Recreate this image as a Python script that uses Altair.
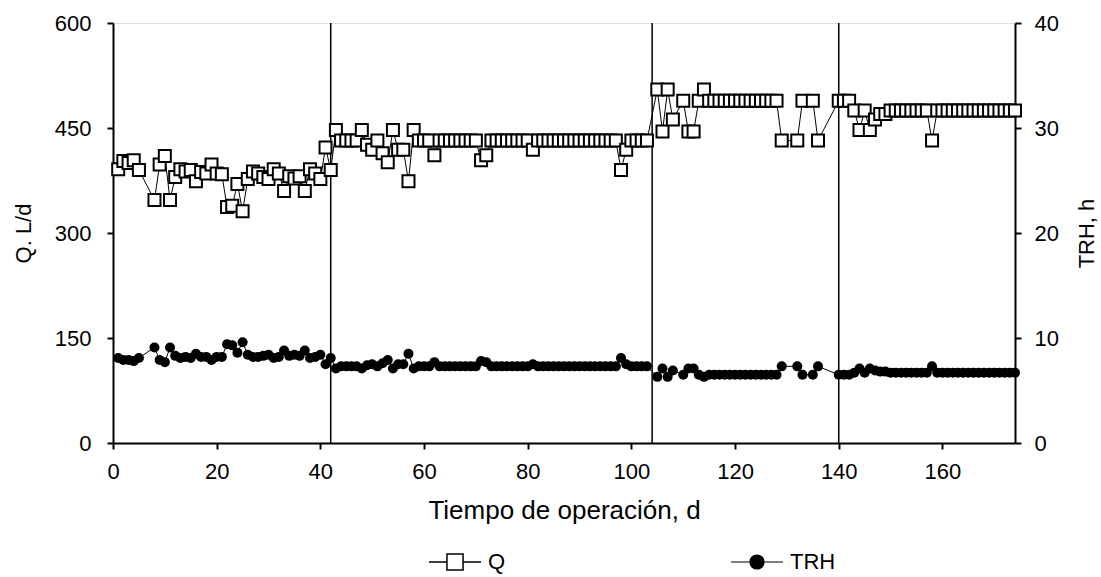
import altair as alt
import pandas as pd

# ---------------- data ----------------
days_p1 = [1, 2, 3, 4, 5, 8, 9, 10, 11, 12, 13, 14, 15, 16, 17, 18, 19, 20, 21, 22,
           23, 24, 25, 26, 27, 28, 29, 30, 31, 32, 33, 34, 35, 36, 37, 38, 39, 40, 41, 42]
q_p1 = [391, 403, 400, 404, 390, 347, 398, 410, 347, 380, 391, 388, 390, 374, 387, 385, 398, 385, 384, 337,
        339, 370, 331, 377, 388, 385, 380, 377, 391, 385, 360, 381, 378, 381, 360, 391, 385, 377, 422, 390]
trh_p1 = [8.1, 7.9, 7.9, 7.8, 8.1, 9.1, 7.9, 7.7, 9.1, 8.3, 8.1, 8.2, 8.1, 8.5, 8.2, 8.2, 7.9, 8.2, 8.2, 9.4,
          9.3, 8.6, 9.6, 8.4, 8.2, 8.2, 8.3, 8.4, 8.1, 8.2, 8.8, 8.3, 8.4, 8.3, 8.8, 8.1, 8.2, 8.4, 7.5, 8.1]

days_p2 = [43, 44, 45, 46, 47, 48, 49, 50, 51, 52, 53, 54, 55, 56, 57, 58, 59, 60, 61, 62,
           63, 64, 65, 66, 67, 68, 69, 70, 71, 72, 73, 74, 75, 76, 77, 78, 79, 80, 81, 82,
           83, 84, 85, 86, 87, 88, 89, 90, 91, 92, 93, 94, 95, 96, 97, 98, 99, 100, 101, 102, 103]
q_p2 = [447, 432, 432, 432, 432, 447, 426, 419, 432, 414, 401, 447, 419, 419, 374, 447, 432, 432, 432, 411,
        432, 432, 432, 432, 432, 432, 432, 432, 404, 411, 432, 432, 432, 432, 432, 432, 432, 432, 419, 432,
        432, 432, 432, 432, 432, 432, 432, 432, 432, 432, 432, 432, 432, 432, 432, 390, 419, 432, 432, 432, 432]
trh_p2 = [7.1, 7.3, 7.3, 7.3, 7.3, 7.1, 7.4, 7.5, 7.3, 7.6, 7.9, 7.1, 7.5, 7.5, 8.5, 7.1, 7.3, 7.3, 7.3, 7.7,
          7.3, 7.3, 7.3, 7.3, 7.3, 7.3, 7.3, 7.3, 7.8, 7.7, 7.3, 7.3, 7.3, 7.3, 7.3, 7.3, 7.3, 7.3, 7.5, 7.3,
          7.3, 7.3, 7.3, 7.3, 7.3, 7.3, 7.3, 7.3, 7.3, 7.3, 7.3, 7.3, 7.3, 7.3, 7.3, 8.1, 7.5, 7.3, 7.3, 7.3, 7.3]

days_p3 = [105, 106, 107, 108, 110, 111, 112, 113, 114, 115, 116, 117, 118, 119, 120, 121, 122, 123, 124, 125,
           126, 127, 128, 129, 132, 133, 135, 136, 140, 141, 142, 143, 144, 145, 146, 147, 148, 149, 150, 151,
           152, 153, 154, 155, 156, 157, 158, 159, 160, 161, 162, 163, 164, 165, 166, 167, 168, 169, 170, 171,
           172, 173, 174]
q_p3 = [505, 445, 505, 462, 489, 445, 445, 489, 505, 489, 489, 489, 489, 489, 489, 489, 489, 489, 489, 489,
        489, 489, 489, 432, 432, 489, 489, 432, 489, 489, 489, 475, 447, 475, 447, 462, 470, 470, 475, 475,
        475, 475, 475, 475, 475, 475, 432, 475, 475, 475, 475, 475, 475, 475, 475, 475, 475, 475, 475, 475,
        475, 475, 475]
trh_p3 = [6.3, 7.1, 6.3, 6.9, 6.5, 7.1, 7.1, 6.5, 6.3, 6.5, 6.5, 6.5, 6.5, 6.5, 6.5, 6.5, 6.5, 6.5, 6.5, 6.5,
          6.5, 6.5, 6.5, 7.3, 7.3, 6.5, 6.5, 7.3, 6.5, 6.5, 6.5, 6.7, 7.1, 6.7, 7.1, 6.9, 6.8, 6.8, 6.7, 6.7,
          6.7, 6.7, 6.7, 6.7, 6.7, 6.7, 7.3, 6.7, 6.7, 6.7, 6.7, 6.7, 6.7, 6.7, 6.7, 6.7, 6.7, 6.7, 6.7, 6.7,
          6.7, 6.7, 6.7]

phase_days = [42, 104, 140]
x_ticks = [0, 20, 40, 60, 80, 100, 120, 140, 160]
q_ticks = [0, 150, 300, 450, 600]
trh_ticks = [0, 10, 20, 30, 40]

days = days_p1 + days_p2 + days_p3
df = pd.DataFrame({
    "dia": days,
    "Q": q_p1 + q_p2 + q_p3,
    "TRH": trh_p1 + trh_p2 + trh_p3,
})
df["sQ"] = "Q"
df["sT"] = "TRH"
phase_df = pd.DataFrame({"dia": phase_days})

FONT = "Liberation Sans"

x_enc = alt.X(
    "dia:Q",
    scale=alt.Scale(domain=[0, 174], nice=False, zero=False),
    axis=alt.Axis(
        values=x_ticks, title="Tiempo de operación, d", grid=False,
        domainColor="black", domainWidth=2, tickColor="black", tickWidth=2, tickSize=6,
        labelFont=FONT, labelFontSize=22, labelColor="black", labelPadding=12,
        labelFlush=False, labelOverlap=False,
        titleFont=FONT, titleFontSize=26, titleFontWeight="normal", titleColor="black",
        titleY=75, titleBaseline="alphabetic",
    ),
)

q_y = alt.Y(
    "Q:Q",
    scale=alt.Scale(domain=[0, 600], nice=False),
    axis=alt.Axis(
        orient="left", values=q_ticks, title="Q. L/d", grid=False,
        domainColor="black", domainWidth=2, tickColor="black", tickWidth=2, tickSize=6,
        labelFont=FONT, labelFontSize=22, labelColor="black", labelPadding=16,
        labelFlush=False, labelOverlap=False,
        titleFont=FONT, titleFontSize=22, titleFontWeight="normal", titleColor="black",
        titleAngle=270, titleX=-90, titleY=210, titleAlign="center", titleBaseline="middle",
    ),
)

trh_y = alt.Y(
    "TRH:Q",
    scale=alt.Scale(domain=[0, 40], nice=False),
    axis=alt.Axis(
        orient="right", values=trh_ticks, title="TRH, h", grid=False,
        domainColor="black", domainWidth=2, tickColor="black", tickWidth=2, tickSize=6,
        labelFont=FONT, labelFontSize=22, labelColor="black", labelPadding=13,
        labelFlush=False, labelOverlap=False,
        titleFont=FONT, titleFontSize=22, titleFontWeight="normal", titleColor="black",
        titleAngle=270, titleX=71, titleY=210, titleAlign="center", titleBaseline="middle",
    ),
)

PATH_Q = "M-1,0H-0.31M0.31,0H1M-0.31,-0.31H0.31V0.31H-0.31Z"
PATH_T = "M-1,0H1M0.27,0A0.27,0.27 0 1,1 -0.27,0A0.27,0.27 0 1,1 0.27,0Z"

base = alt.Chart(df)

rules = alt.Chart(phase_df).mark_rule(color="black", strokeWidth=1.5).encode(x=x_enc)

trh_line = base.mark_line(color="black", strokeWidth=1).encode(x=x_enc, y=trh_y)
trh_pts = base.mark_point(shape="circle", filled=True, size=100, opacity=1).encode(
    x=x_enc, y=trh_y,
    fill=alt.Fill(
        "sT:N",
        scale=alt.Scale(domain=["TRH"], range=["black"]),
        legend=alt.Legend(
            title=None, orient="none", legendX=617, legendY=512,
            symbolType=PATH_T, symbolSize=2704, symbolStrokeColor="black",
            symbolStrokeWidth=1.2, symbolFillColor="black",
            labelFont=FONT, labelFontSize=22, labelColor="black", labelOffset=6,
        ),
    ),
)

q_line = base.mark_line(color="black", strokeWidth=1).encode(x=x_enc, y=q_y)
q_pts = base.mark_point(shape="square", filled=True, fill="white", size=144,
                        strokeWidth=2, opacity=1).encode(
    x=x_enc, y=q_y,
    stroke=alt.Stroke(
        "sQ:N",
        scale=alt.Scale(domain=["Q"], range=["black"]),
        legend=alt.Legend(
            title=None, orient="none", legendX=315, legendY=512,
            symbolType=PATH_Q, symbolSize=2704, symbolFillColor="white",
            symbolStrokeColor="black", symbolStrokeWidth=1.5,
            labelFont=FONT, labelFontSize=22, labelColor="black", labelOffset=6,
        ),
    ),
)

chart = alt.layer(
    rules,
    alt.layer(trh_line, trh_pts),
    alt.layer(q_line, q_pts),
).resolve_scale(
    y="independent", fill="independent", stroke="independent"
).properties(
    width=902, height=420,
    autosize=alt.AutoSizeParams(type="none"),
    padding={"left": 113, "top": 23, "right": 86, "bottom": 134},
    background="white",
).configure_view(
    stroke="black", strokeWidth=2
).configure(font=FONT)

chart.save("out.html", embed_options={"renderer": "svg", "actions": False})
